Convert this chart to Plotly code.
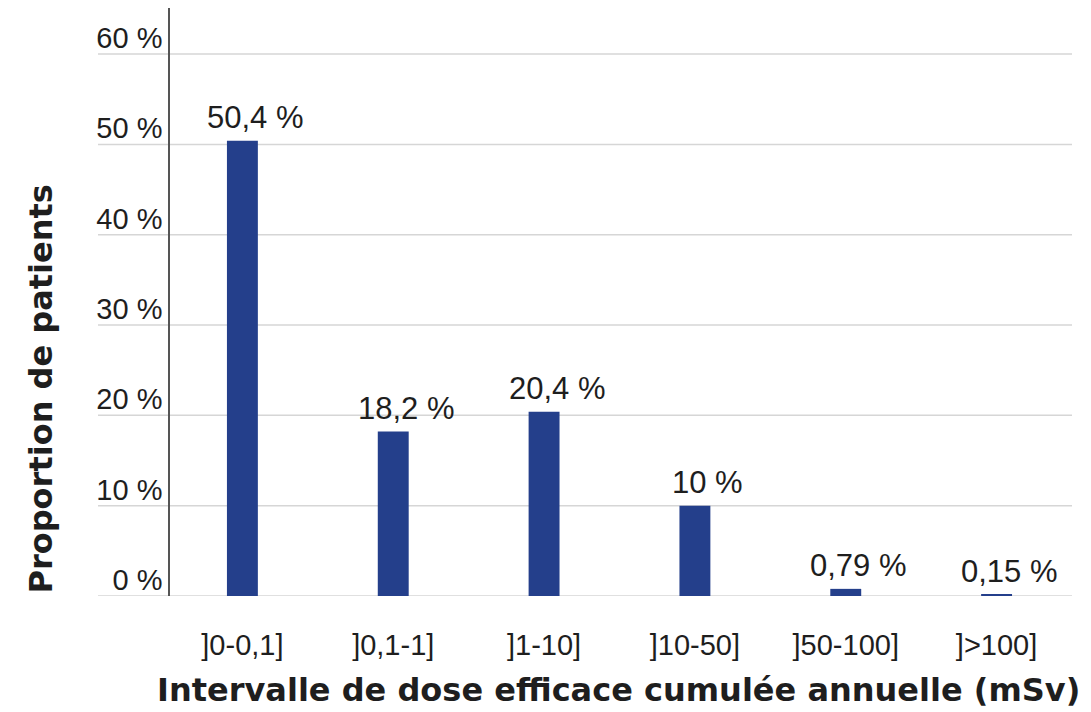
import plotly.graph_objects as go

categories = ["]0-0,1]", "]0,1-1]", "]1-10]", "]10-50]", "]50-100]", "]>100]"]
values = [50.4, 18.2, 20.4, 10, 0.79, 0.15]
y_ticks = [0, 10, 20, 30, 40, 50, 60]
y_tick_labels = [f"{t} %" for t in y_ticks]
bar_labels = [f"{v:g}".replace(".", ",") + " %" for v in values]

BAR_COLOR = "#243f8b"
TEXT_COLOR = "#1e1e1e"
FONT = "Liberation Sans, Arial, sans-serif"
BOLD_FONT = "DejaVu Sans, Liberation Sans, sans-serif"

OFF = 8  # page body margin
W, H = 1091 - OFF, 712 - OFF
L, R, T, B = 170 - OFF, 19, 0, 116
plot_w = W - L - R
plot_h = H - T - B

fig = go.Figure()
fig.add_trace(go.Bar(
    x=list(range(len(categories))),
    y=values,
    width=0.205,
    marker=dict(color=BAR_COLOR, line=dict(width=0)),
    hoverinfo="skip",
))

# value labels above the bars (slightly right of centre as in the original)
for i, (v, lab) in enumerate(zip(values, bar_labels)):
    fig.add_annotation(
        x=i, y=v, xref="x", yref="y", text=lab, showarrow=False,
        xanchor="center", yanchor="bottom", xshift=13, yshift=4,
        font=dict(family=FONT, size=31, color=TEXT_COLOR),
    )

# gridlines extending left under the tick labels
x_left = -(L - (98 - OFF)) / plot_w
for t in y_ticks:
    fig.add_shape(type="line", xref="paper", yref="y", x0=x_left, x1=1,
                  y0=t, y1=t, line=dict(color="#d6d6d6", width=1.5), layer="below")

fig.add_annotation(
    text="<b>Proportion de patients</b>", textangle=-90,
    xref="paper", yref="paper", x=-(L - (40 - OFF)) / plot_w, y=0.0,
    xanchor="center", yanchor="bottom", showarrow=False,
    font=dict(family=BOLD_FONT, size=32, color=TEXT_COLOR),
)
fig.add_annotation(
    text="<b>Intervalle de dose efficace cumulée annuelle (mSv)</b>",
    xref="paper", yref="paper", x=((618 - OFF) - L) / plot_w,
    y=-((690 - OFF) - (H - B)) / plot_h,
    xanchor="center", yanchor="middle", showarrow=False,
    font=dict(family=BOLD_FONT, size=32, color=TEXT_COLOR),
)

fig.update_layout(
    width=W, height=H,
    margin=dict(l=L, r=R, t=T, b=B, autoexpand=False),
    paper_bgcolor="white", plot_bgcolor="white",
    showlegend=False,
    xaxis=dict(
        range=[-0.48, 5.5],
        tickmode="array",
        tickvals=list(range(len(categories))),
        ticktext=categories,
        tickfont=dict(family=FONT, size=29, color=TEXT_COLOR),
        showgrid=False, zeroline=False, showline=False,
        ticks="", ticklabelstandoff=29, automargin=False,
    ),
    yaxis=dict(
        range=[0, 65.1],
        tickmode="array",
        tickvals=y_ticks,
        ticktext=y_tick_labels,
        tickfont=dict(family=FONT, size=29, color=TEXT_COLOR),
        ticklabelposition="outside top",
        ticklabelshift=4,
        showgrid=False, zeroline=False,
        showline=True, linecolor="#555555", linewidth=1.5,
        ticks="", automargin=False,
    ),
)

fig.write_html("out.html")
